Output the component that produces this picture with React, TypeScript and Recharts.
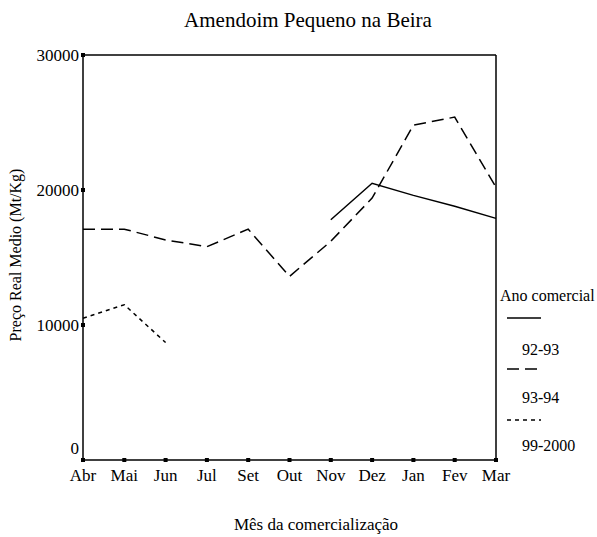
import React from 'react';
import { LineChart, Line, XAxis, YAxis, ReferenceLine } from 'recharts';

const months = ['Abr', 'Mai', 'Jun', 'Jul', 'Set', 'Out', 'Nov', 'Dez', 'Jan', 'Fev', 'Mar'];
const s9293: (number | null)[] = [null, null, null, null, null, null, 17800, 20500, 19600, 18800, 17900];
const s9394: (number | null)[] = [17100, 17100, 16300, 15800, 17100, 13600, 16200, 19400, 24800, 25400, 20200];
const s9900: (number | null)[] = [10500, 11500, 8700, null, null, null, null, null, null, null, null];
const yTicks = [0, 10000, 20000, 30000];

const seriesDefs = [
  { key: 's9293', name: '92-93', dash: undefined as string | undefined },
  { key: 's9394', name: '93-94', dash: '12 6' },
  { key: 's9900', name: '99-2000', dash: '4 4' },
];

const data = months.map((m, i) => ({ month: m, s9293: s9293[i], s9394: s9394[i], s9900: s9900[i] }));

const FONT = "'Liberation Serif', 'Times New Roman', serif";

const XTick = (props: any) => {
  const { x, y, payload } = props;
  return (
    <g>
      <rect x={x - 2} y={y - 2} width={4} height={4} fill="#000" />
      <text x={x} y={y + 21} textAnchor="middle" style={{ fontFamily: FONT, fontSize: 17 }} fill="#000">
        {payload.value}
      </text>
    </g>
  );
};

const YTick = (props: any) => {
  const { x, y, payload } = props;
  const off = payload.value === 0 ? -6 : 6;
  return (
    <g>
      <rect x={x - 2} y={y - 2} width={4} height={4} fill="#000" />
      <text x={x - 4} y={y + off} textAnchor="end" style={{ fontFamily: FONT, fontSize: 17 }} fill="#000">
        {payload.value}
      </text>
    </g>
  );
};

const T = (p: any) => {
  const { size, children, ...rest } = p;
  return (
    <text {...rest} fill="#000" style={{ fontFamily: FONT, fontSize: size }}>
      {children}
    </text>
  );
};

export default function App() {
  return (
    <div style={{ position: 'absolute', left: 0, top: 0, width: 597, height: 537, background: '#fff' }}>
      <LineChart
        width={597}
        height={537}
        data={data}
        margin={{ top: 55, left: 23, right: 101, bottom: 47 }}
      >
        <XAxis
          dataKey="month"
          height={30}
          tickSize={0}
          tickMargin={0}
          tickLine={false}
          tick={<XTick />}
          interval={0}
          axisLine={{ stroke: '#000', strokeWidth: 1.5 }}
        />
        <YAxis
          width={60}
          domain={[0, 30000]}
          ticks={yTicks}
          tickSize={0}
          tickMargin={0}
          tickLine={false}
          tick={<YTick />}
          axisLine={{ stroke: '#000', strokeWidth: 1.5 }}
        />
        <ReferenceLine y={30000} stroke="#000" strokeWidth={1.5} />
        <ReferenceLine x="Mar" stroke="#000" strokeWidth={1.5} />
        {seriesDefs.map((s) => (
          <Line
            key={s.key}
            dataKey={s.key}
            name={s.name}
            stroke="#000"
            strokeWidth={1.5}
            strokeDasharray={s.dash}
            dot={false}
            activeDot={false}
            connectNulls={false}
            isAnimationActive={false}
            type="linear"
          />
        ))}
      </LineChart>
      <svg
        width={597}
        height={537}
        style={{ position: 'absolute', left: 0, top: 0, pointerEvents: 'none' }}
      >
        <T x={308} y={27} textAnchor="middle" size={21}>Amendoim Pequeno na Beira</T>
        <T x={316} y={530} textAnchor="middle" size={17}>Mês da comercialização</T>
        <T transform="translate(21,255) rotate(-90)" textAnchor="middle" size={16}>
          Preço Real Medio (Mt/Kg)
        </T>
        <T x={500} y={301} size={16}>Ano comercial</T>
        {seriesDefs.map((s, i) => (
          <g key={s.key}>
            <line
              x1={507}
              x2={541}
              y1={318 + i * 51}
              y2={318 + i * 51}
              stroke="#000"
              strokeWidth={1.5}
              strokeDasharray={s.dash}
            />
            <T x={522} y={355 + i * 48} size={16}>{s.name}</T>
          </g>
        ))}
      </svg>
    </div>
  );
}
